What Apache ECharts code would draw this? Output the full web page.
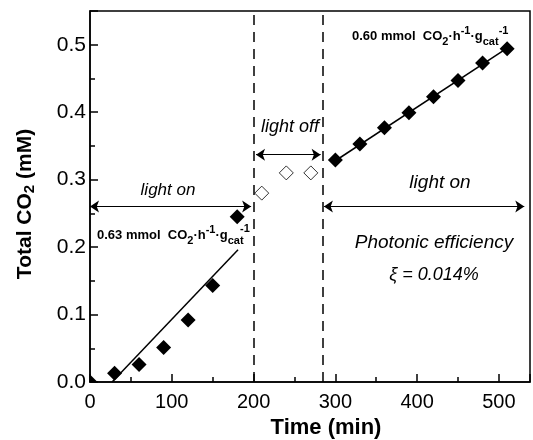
<!DOCTYPE html>
<html>
<head>
<meta charset="utf-8">
<script src="https://cdn.jsdelivr.net/npm/echarts@6/dist/echarts.min.js"></script>
<style>
  html, body { margin: 0; padding: 0; background: #fff; }
  #chart { width: 533px; height: 440px; }
</style>
</head>
<body>
<div id="chart"></div>
<script>
// 数据
const onTime = [0, 30, 60, 90, 120, 150, 180, 300, 330, 360, 390, 420, 450, 480, 510];
const onCO2 = [0, 0.013, 0.026, 0.051, 0.092, 0.143, 0.245, 0.329, 0.353, 0.377, 0.399, 0.423, 0.447, 0.473, 0.494];
const offTime = [210, 240, 270];
const offCO2 = [0.28, 0.31, 0.31];
const fitLeft = [[27, 0], [181, 0.196]];
const fitRight = [[300, 0.328], [510, 0.495]];
const switchTimes = [200, 284];
const arrows = [
  [[0, 0.26], [197, 0.26]],
  [[203, 0.337], [282, 0.337]],
  [[286, 0.26], [531, 0.26]]
];

const FONT = '"Liberation Sans", Arial, sans-serif';
const chart = echarts.init(document.getElementById('chart'), null, { renderer: 'canvas' });

const subRich = {
  sub: { fontSize: 11, fontWeight: 'bold', fontFamily: FONT, verticalAlign: 'bottom', lineHeight: 22 },
  sup: { fontSize: 11, fontWeight: 'bold', fontFamily: FONT, verticalAlign: 'top', lineHeight: 14 }
};

function axisBase(extra) {
  return Object.assign({
    type: 'value',
    min: 0,
    splitLine: { show: false },
    axisLine: { show: true, lineStyle: { color: '#000', width: 1.5 } },
    axisTick: { show: true, inside: true, length: 8, lineStyle: { color: '#000', width: 1.5 } }
  }, extra);
}

function italic(x, y, text, size) {
  return { type: 'text', x: x, y: y,
    style: { text: text, fontSize: size, fontStyle: 'italic', fontFamily: FONT, fill: '#000', align: 'center', verticalAlign: 'middle' } };
}

chart.setOption({
  animation: false,
  grid: { left: 90, right: -3, top: 11, bottom: 58, show: true, borderColor: '#000', borderWidth: 1.5, backgroundColor: 'transparent' },
  xAxis: [
    axisBase({
      position: 'bottom', max: 538, interval: 100,
      axisLabel: { fontSize: 20, color: '#000', fontFamily: FONT, margin: 10,
        formatter: v => (v % 100 === 0 ? String(v) : '') }
    }),
    axisBase({
      position: 'bottom', max: 538, interval: 50,
      axisLine: { show: false },
      axisTick: { show: true, inside: true, length: 5, lineStyle: { color: '#000', width: 1.5 } },
      axisLabel: { show: false }
    })
  ],
  yAxis: [
    axisBase({
      position: 'left', max: 0.55, interval: 0.1,
      axisLabel: { fontSize: 21, color: '#000', fontFamily: FONT, margin: 4,
        formatter: v => (Math.abs(v * 10 - Math.round(v * 10)) < 1e-6 ? v.toFixed(1) : '') }
    }),
    axisBase({
      position: 'left', max: 0.55, interval: 0.05,
      axisLine: { show: false },
      axisTick: { show: true, inside: true, length: 5, lineStyle: { color: '#000', width: 1.5 } },
      axisLabel: { show: false }
    })
  ],
  series: [
    {
      type: 'line', data: fitLeft, symbol: 'none',
      lineStyle: { color: '#000', width: 1.5 }, z: 3
    },
    {
      type: 'line', data: fitRight, symbol: 'none',
      lineStyle: { color: '#000', width: 1.5 }, z: 3
    },
    {
      // 亮灯时的实心菱形，custom 以便在坐标轴处裁剪
      type: 'custom',
      clip: true,
      data: onTime.map((t, i) => [t, onCO2[i]]),
      renderItem: function (params, api) {
        const p = api.coord([api.value(0), api.value(1)]);
        const r = 7.5;
        return {
          type: 'polygon',
          shape: { points: [[p[0], p[1] - r], [p[0] + r, p[1]], [p[0], p[1] + r], [p[0] - r, p[1]]] },
          style: { fill: '#000' }
        };
      },
      z: 4
    },
    {
      type: 'scatter',
      data: offTime.map((t, i) => [t, offCO2[i]]),
      symbol: 'diamond', symbolSize: 14,
      itemStyle: { color: '#fff', borderColor: '#000', borderWidth: 1 },
      z: 4
    },
    {
      type: 'line', data: [], silent: true,
      markLine: {
        silent: true, symbol: 'none', animation: false,
        label: { show: false },
        lineStyle: { color: '#000', width: 1.5, type: [10, 7] },
        data: switchTimes.map(t => ({ xAxis: t }))
      }
    },
    {
      type: 'line', data: [], silent: true,
      markLine: {
        silent: true, symbol: ['arrow', 'arrow'], symbolSize: 9, animation: false,
        label: { show: false },
        lineStyle: { color: '#000', width: 1.2, type: 'solid' },
        data: arrows.map(a => [{ coord: a[0] }, { coord: a[1] }])
      }
    }
  ],
  graphic: [
    { type: 'text', x: 25, y: 204, rotation: Math.PI / 2,
      style: { text: 'Total CO{s|2} (mM)', fontSize: 21, fontWeight: 'bold', fontFamily: FONT, fill: '#000',
        align: 'center', verticalAlign: 'middle', lineHeight: 24,
        rich: { s: { fontSize: 15, fontWeight: 'bold', fontFamily: FONT, verticalAlign: 'bottom', lineHeight: 20 } } } },
    { type: 'text', x: 326, y: 428,
      style: { text: 'Time (min)', fontSize: 22, fontWeight: 'bold', fontFamily: FONT, fill: '#000', align: 'center', verticalAlign: 'middle' } },
    italic(168, 190, 'light on', 17),
    italic(290, 127, 'light off', 18),
    italic(440, 183, 'light on', 19),
    italic(434, 243, 'Photonic efficiency', 19),
    italic(434, 275, 'ξ = 0.014%', 18),
    { type: 'text', x: 352, y: 36,
      style: { text: '0.60 mmol  CO{sub|2}·h{sup|-1}·g{sub|cat}{sup|-1}', fontSize: 13, fontWeight: 'bold', fontFamily: FONT, fill: '#000',
        align: 'left', verticalAlign: 'middle', lineHeight: 22, rich: subRich } },
    { type: 'text', x: 97, y: 235,
      style: { text: '0.63 mmol  CO{sub|2}·h{sup|-1}·g{sub|cat}', fontSize: 13, fontWeight: 'bold', fontFamily: FONT, fill: '#000',
        align: 'left', verticalAlign: 'middle', lineHeight: 22, rich: subRich } },
    { type: 'text', x: 245, y: 229,
      style: { text: '-1', fontSize: 11, fontWeight: 'bold', fontFamily: FONT, fill: '#000', align: 'center', verticalAlign: 'middle' } }
  ]
});
</script>
</body>
</html>
